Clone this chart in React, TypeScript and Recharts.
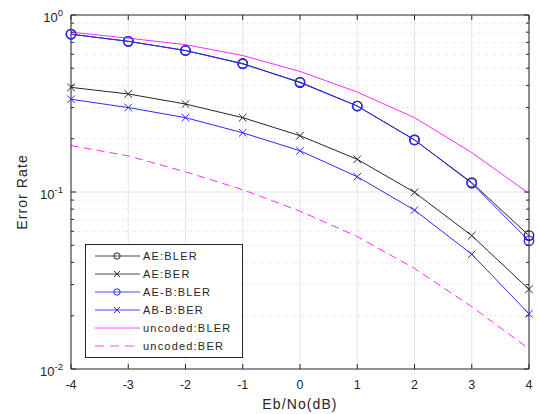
import React from 'react';
import { LineChart, Line, XAxis, YAxis, CartesianGrid, ReferenceLine, Legend, Label } from 'recharts';

const xValues = [-4, -3, -2, -1, 0, 1, 2, 3, 4];
const aeBler = [0.78, 0.71, 0.63, 0.532, 0.415, 0.306, 0.197, 0.113, 0.0567];
const aeBer = [0.39, 0.358, 0.314, 0.263, 0.208, 0.153, 0.0996, 0.0567, 0.0282];
const abBler = [0.778, 0.71, 0.63, 0.529, 0.418, 0.306, 0.197, 0.112, 0.053];
const abBer = [0.334, 0.3, 0.263, 0.216, 0.171, 0.122, 0.079, 0.0445, 0.0205];
const uncodedBler = [0.8, 0.74, 0.68, 0.59, 0.48, 0.367, 0.263, 0.167, 0.098];
const uncodedBer = [0.183, 0.16, 0.13, 0.103, 0.078, 0.056, 0.037, 0.0225, 0.013];

const xTicks = [-4, -3, -2, -1, 0, 1, 2, 3, 4];
const yMajorTicks = [0.01, 0.1, 1];
const yMajorExponents = ['-2', '-1', '0'];
const yMinorTicks = [0.02, 0.03, 0.04, 0.05, 0.06, 0.07, 0.08, 0.09, 0.2, 0.3, 0.4, 0.5, 0.6, 0.7, 0.8, 0.9];

const seriesKeys = ['aeBler', 'aeBer', 'abBler', 'abBer', 'uncodedBler', 'uncodedBer'];
const seriesNames = ['AE:BLER', 'AE:BER', 'AE-B:BLER', 'AB-B:BER', 'uncoded:BLER', 'uncoded:BER'];
const seriesColors = ['#262626', '#262626', '#2b2bff', '#2b2bff', '#ff2bff', '#ff2bff'];
const seriesMarkers = ['circle', 'cross', 'circle', 'cross', 'none', 'none'];
const seriesDashes = ['', '', '', '', '', '8 5'];

const data = xValues.map((x, i) => ({
  x,
  aeBler: aeBler[i],
  aeBer: aeBer[i],
  abBler: abBler[i],
  abBer: abBer[i],
  uncodedBler: uncodedBler[i],
  uncodedBer: uncodedBer[i],
}));

const FONT = '"Liberation Sans", Arial, Helvetica, sans-serif';
const AXIS = '#262626';
const PLOT_W = 458;
const PLOT_H = 354;

const makeCircleDot = (color: string, r: number) => (props: any) => {
  const { cx, cy, index } = props;
  if (cx == null || cy == null) return <g key={`c${index}`} />;
  return <circle key={`c${index}`} cx={cx} cy={cy} r={r} fill="none" stroke={color} strokeWidth={1.4} />;
};

const makeCrossDot = (color: string, s: number) => (props: any) => {
  const { cx, cy, index } = props;
  if (cx == null || cy == null) return <g key={`x${index}`} />;
  return (
    <g key={`x${index}`}>
      <line x1={cx - s} y1={cy - s} x2={cx + s} y2={cy + s} stroke={color} strokeWidth={1} />
      <line x1={cx - s} y1={cy + s} x2={cx + s} y2={cy - s} stroke={color} strokeWidth={1} />
    </g>
  );
};

const YTick = (props: any) => {
  const { x, y, payload } = props;
  const v = payload.value;
  const idx = yMajorTicks.indexOf(v);
  const major = idx >= 0;
  const len = major ? 5 : 3;
  return (
    <g>
      <line x1={x} x2={x + len} y1={y} y2={y} stroke={AXIS} strokeWidth={1} />
      <line x1={x + PLOT_W} x2={x + PLOT_W - len} y1={y} y2={y} stroke={AXIS} strokeWidth={1} />
      {major && (
        <text x={x - 8} y={y + 7} textAnchor="end" fontSize={13} fill={AXIS} fontFamily={FONT}>
          10
          <tspan dy={-6} fontSize={9.5}>{yMajorExponents[idx]}</tspan>
        </text>
      )}
    </g>
  );
};

const XTick = (props: any) => {
  const { x, y, payload } = props;
  return (
    <g>
      <line x1={x} x2={x} y1={y} y2={y - 5} stroke={AXIS} strokeWidth={1} />
      <line x1={x} x2={x} y1={y - PLOT_H} y2={y - PLOT_H + 5} stroke={AXIS} strokeWidth={1} />
      <text x={x} y={y + 20} textAnchor="middle" fontSize={12.5} fill={AXIS} fontFamily={FONT}>
        {String(payload.value)}
      </text>
    </g>
  );
};

const renderLegend = () => (
  <svg width={160} height={116} style={{ display: 'block' }}>
    <rect x={0.5} y={0.5} width={157} height={113} fill="#fff" stroke={AXIS} strokeWidth={1} />
    {seriesNames.map((name, i) => {
      const cy = 12 + i * 18;
      const color = seriesColors[i];
      const m = seriesMarkers[i];
      return (
        <g key={name}>
          <line x1={10} x2={55} y1={cy} y2={cy} stroke={color} strokeWidth={1} strokeDasharray={seriesDashes[i] ? '9 6' : undefined} opacity={0.85} />
          {m === 'circle' && <circle cx={32} cy={cy} r={3.2} fill="none" stroke={color} strokeWidth={1} />}
          {m === 'cross' && (
            <g>
              <line x1={29} y1={cy - 3} x2={35} y2={cy + 3} stroke={color} strokeWidth={1} />
              <line x1={29} y1={cy + 3} x2={35} y2={cy - 3} stroke={color} strokeWidth={1} />
            </g>
          )}
          <text x={58} y={cy + 4} fontSize={11} letterSpacing={1.2} fill={AXIS} fontFamily={FONT}>
            {name}
          </text>
        </g>
      );
    })}
  </svg>
);

export default function App() {
  return (
    <div style={{ position: 'absolute', left: 0, top: 0, background: '#fff' }}>
      <LineChart width={540} height={414} data={data} margin={{ top: 15, right: 11, left: 0, bottom: 0 }}>
        <CartesianGrid horizontal={false} vertical={true} stroke="#e6e6e6" />
        {yMinorTicks.map((v) => (
          <ReferenceLine key={`g${v}`} y={v} stroke="#d6d6d6" strokeDasharray="1 3" />
        ))}
        <ReferenceLine y={0.1} stroke="#e2e2e2" />
        <XAxis
          dataKey="x"
          type="number"
          domain={[-4, 4]}
          ticks={xTicks}
          interval={0}
          height={45}
          tickSize={0}
          tickMargin={0}
          tickLine={false}
          axisLine={{ stroke: AXIS }}
          tick={<XTick />}
        >
          <Label
            content={(p: any) => {
              const vb = p.viewBox || {};
              return (
                <text x={vb.x + vb.width / 2} y={vb.y + 40} textAnchor="middle" fontSize={14} letterSpacing={1.1} fill={AXIS} fontFamily={FONT}>
                  Eb/No(dB)
                </text>
              );
            }}
          />
        </XAxis>
        <YAxis
          type="number"
          scale="log"
          domain={[0.01, 1]}
          allowDataOverflow
          ticks={[...yMajorTicks, ...yMinorTicks]}
          interval={0}
          width={71}
          tickSize={0}
          tickMargin={0}
          tickLine={false}
          axisLine={{ stroke: AXIS }}
          tick={<YTick />}
        >
          <Label
            content={(p: any) => {
              const vb = p.viewBox || {};
              const cy = vb.y + vb.height / 2;
              return (
                <text x={27} y={cy} transform={`rotate(-90, 27, ${cy})`} textAnchor="middle" fontSize={14} letterSpacing={1.1} fill={AXIS} fontFamily={FONT}>
                  Error Rate
                </text>
              );
            }}
          />
        </YAxis>
        <ReferenceLine y={1} stroke={AXIS} />
        <ReferenceLine x={4} stroke={AXIS} />
        {seriesKeys.map((k, i) => (
          <Line
            key={k}
            dataKey={k}
            name={seriesNames[i]}
            stroke={seriesColors[i]}
            strokeWidth={1}
            strokeDasharray={seriesDashes[i] || undefined}
            isAnimationActive={false}
            activeDot={false}
            dot={
              seriesMarkers[i] === 'circle'
                ? makeCircleDot(seriesColors[i], 4.7)
                : seriesMarkers[i] === 'cross'
                ? makeCrossDot(seriesColors[i], 3.8)
                : false
            }
          />
        ))}
        <Legend
          layout="vertical"
          align="center"
          verticalAlign="middle"
          content={renderLegend}
          wrapperStyle={{ left: 85, top: 244, width: 160, height: 116 }}
        />
      </LineChart>
    </div>
  );
}
